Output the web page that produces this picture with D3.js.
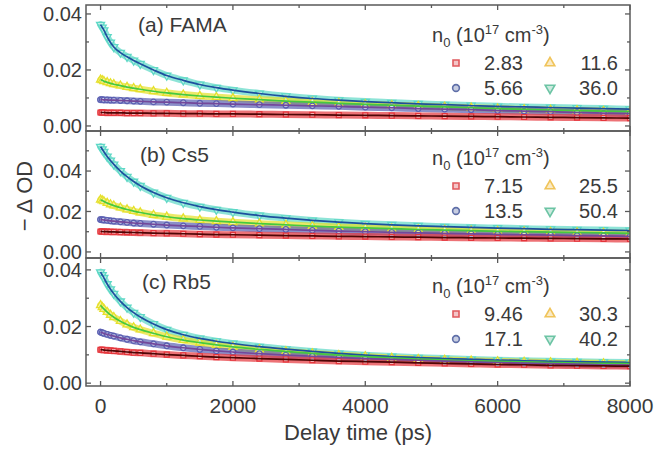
<!DOCTYPE html>
<html>
<head>
<meta charset="utf-8">
<script src="https://cdn.jsdelivr.net/npm/d3@7"></script>
<style>
  body { margin: 0; background: #fff; }
  text { font-family: "Liberation Sans", Arial, sans-serif; fill: #3a3a3a; }
</style>
</head>
<body>
<svg id="chart" width="655" height="450"></svg>
<script>
// Pump-probe delay times (ps)
const delayTimes = [0, 25, 50, 100, 150, 200, 300, 400, 500, 600, 800, 1000, 1250, 1500, 1750, 2000,
  2400, 2800, 3200, 3600, 4000, 4400, 4800, 5200, 5600, 6000, 6400, 6800, 7200, 7600, 8000];

const panelLabels = ["(a) FAMA", "(b) Cs5", "(c) Rb5"];

// Initial carrier densities n0 (10^17 cm^-3), lowest to highest, per film
const famaDensities = ["2.83", "5.66", "11.6", "36.0"];
const cs5Densities  = ["7.15", "13.5", "25.5", "50.4"];
const rb5Densities  = ["9.46", "17.1", "30.3", "40.2"];

// -ΔOD transients, FAMA
const famaN1 = [0.0048, 0.0048, 0.0048, 0.0047, 0.0047, 0.0047, 0.0047, 0.0046, 0.0046, 0.0046, 0.0045, 0.0045, 0.0044, 0.0044, 0.0043, 0.0043,
  0.0042, 0.0041, 0.0040, 0.0039, 0.0038, 0.0037, 0.0036, 0.0035, 0.0034, 0.0033, 0.0032, 0.0031, 0.0030, 0.0029, 0.0028];
const famaN2 = [0.0094, 0.0094, 0.0093, 0.0093, 0.0092, 0.0092, 0.0091, 0.0090, 0.0089, 0.0088, 0.0086, 0.0085, 0.0083, 0.0081, 0.0080, 0.0078,
  0.0076, 0.0074, 0.0072, 0.0070, 0.0067, 0.0065, 0.0062, 0.0060, 0.0058, 0.0055, 0.0053, 0.0051, 0.0048, 0.0046, 0.0044];
const famaN3 = [0.0165, 0.0163, 0.0160, 0.0156, 0.0152, 0.0149, 0.0144, 0.0139, 0.0135, 0.0131, 0.0124, 0.0118, 0.0112, 0.0107, 0.0103, 0.0099,
  0.0094, 0.0089, 0.0085, 0.0081, 0.0077, 0.0074, 0.0071, 0.0068, 0.0065, 0.0062, 0.0059, 0.0057, 0.0055, 0.0053, 0.0051];
const famaN4 = [0.0362, 0.0352, 0.0342, 0.0318, 0.0298, 0.0282, 0.0262, 0.0247, 0.0234, 0.0222, 0.0200, 0.0180, 0.0163, 0.0148, 0.0137, 0.0128,
  0.0116, 0.0106, 0.0098, 0.0092, 0.0087, 0.0083, 0.0079, 0.0076, 0.0073, 0.0070, 0.0068, 0.0066, 0.0064, 0.0062, 0.0060];

// -ΔOD transients, Cs5
const cs5N1 = [0.0101, 0.0101, 0.0100, 0.0100, 0.0099, 0.0099, 0.0098, 0.0097, 0.0096, 0.0095, 0.0093, 0.0092, 0.0090, 0.0088, 0.0086, 0.0085,
  0.0083, 0.0081, 0.0079, 0.0077, 0.0076, 0.0074, 0.0073, 0.0071, 0.0070, 0.0069, 0.0068, 0.0067, 0.0066, 0.0065, 0.0064];
const cs5N2 = [0.0160, 0.0159, 0.0158, 0.0156, 0.0154, 0.0152, 0.0149, 0.0146, 0.0143, 0.0141, 0.0137, 0.0133, 0.0129, 0.0126, 0.0122, 0.0119,
  0.0115, 0.0111, 0.0107, 0.0103, 0.0100, 0.0097, 0.0094, 0.0092, 0.0089, 0.0087, 0.0085, 0.0083, 0.0081, 0.0079, 0.0077];
const cs5N3 = [0.0258, 0.0254, 0.0250, 0.0242, 0.0235, 0.0229, 0.0219, 0.0210, 0.0202, 0.0195, 0.0183, 0.0174, 0.0165, 0.0158, 0.0152, 0.0147,
  0.0140, 0.0134, 0.0128, 0.0123, 0.0119, 0.0115, 0.0111, 0.0108, 0.0105, 0.0102, 0.0100, 0.0098, 0.0096, 0.0094, 0.0092];
const cs5N4 = [0.0520, 0.0508, 0.0495, 0.0472, 0.0452, 0.0433, 0.0400, 0.0372, 0.0348, 0.0327, 0.0294, 0.0268, 0.0243, 0.0224, 0.0209, 0.0197,
  0.0180, 0.0167, 0.0156, 0.0147, 0.0140, 0.0134, 0.0129, 0.0125, 0.0121, 0.0118, 0.0115, 0.0112, 0.0110, 0.0108, 0.0106];

// -ΔOD transients, Rb5
const rb5N1 = [0.0118, 0.0118, 0.0117, 0.0116, 0.0115, 0.0114, 0.0112, 0.0110, 0.0108, 0.0107, 0.0104, 0.0101, 0.0098, 0.0095, 0.0092, 0.0090,
  0.0087, 0.0084, 0.0081, 0.0078, 0.0076, 0.0074, 0.0072, 0.0070, 0.0068, 0.0066, 0.0065, 0.0063, 0.0062, 0.0061, 0.0060];
const rb5N2 = [0.0180, 0.0178, 0.0176, 0.0172, 0.0169, 0.0166, 0.0160, 0.0155, 0.0150, 0.0146, 0.0139, 0.0132, 0.0125, 0.0119, 0.0114, 0.0110,
  0.0104, 0.0099, 0.0095, 0.0091, 0.0087, 0.0084, 0.0081, 0.0078, 0.0075, 0.0073, 0.0071, 0.0069, 0.0067, 0.0065, 0.0064];
const rb5N3 = [0.0275, 0.0268, 0.0262, 0.0251, 0.0241, 0.0233, 0.0219, 0.0207, 0.0197, 0.0189, 0.0176, 0.0164, 0.0152, 0.0143, 0.0135, 0.0128,
  0.0119, 0.0112, 0.0105, 0.0099, 0.0094, 0.0089, 0.0085, 0.0082, 0.0079, 0.0077, 0.0075, 0.0073, 0.0071, 0.0070, 0.0069];
const rb5N4 = [0.0392, 0.0382, 0.0372, 0.0350, 0.0332, 0.0316, 0.0289, 0.0267, 0.0249, 0.0234, 0.0209, 0.0189, 0.0171, 0.0158, 0.0148, 0.0140,
  0.0129, 0.0120, 0.0112, 0.0105, 0.0099, 0.0094, 0.0090, 0.0087, 0.0084, 0.0081, 0.0079, 0.0077, 0.0076, 0.0074, 0.0073];

const xMajorTicks = [0, 2000, 4000, 6000, 8000];
const xMinorTicks = [1000, 3000, 5000, 7000];
const yMajorTicks = [0, 0.02, 0.04];
const yTickLabels = ["0.00", "0.02", "0.04"];

// ---- layout ----
const svg = d3.select("#chart");
const plotLeft = 86, plotRight = 630;

const panels = [
  { label: panelLabels[0], dens: famaDensities, series: [famaN1, famaN2, famaN3, famaN4],
    top: 5, bottom: 131, yDomain: [-0.0018, 0.0432], minor: [0.01, 0.03], legendY: 35, labelY: 32 },
  { label: panelLabels[1], dens: cs5Densities, series: [cs5N1, cs5N2, cs5N3, cs5N4],
    top: 131, bottom: 258, yDomain: [-0.003, 0.0598], minor: [0.01, 0.03, 0.05], legendY: 158, labelY: 162 },
  { label: panelLabels[2], dens: rb5Densities, series: [rb5N1, rb5N2, rb5N3, rb5N4],
    top: 258, bottom: 386, yDomain: [-0.001, 0.0442], minor: [0.01, 0.03], legendY: 286, labelY: 289 }
];

// marker shape, marker colour and fitted-curve colour for each density (low -> high)
const styles = [
  { shape: d3.symbolSquare,   size: 24, rot: 0,   mark: "#e5363c", fit: "#4e0505", legend: "#e05a5e" },
  { shape: d3.symbolCircle,   size: 24, rot: 0,   mark: "#5a5fb2", fit: "#73489a", legend: "#5f6fa8" },
  { shape: d3.symbolTriangle, size: 28, rot: 0,   mark: "#e6e02a", fit: "#45c93f", legend: "#f0c45a" },
  { shape: d3.symbolTriangle, size: 28, rot: 180, mark: "#5ed8c6", fit: "#1d4f9e", legend: "#6cc4a4" }
];

const x = d3.scaleLinear().domain([-220, 8000]).range([plotLeft, plotRight]);

svg.append("defs").selectAll("clipPath").data(panels).join("clipPath")
  .attr("id", (d, i) => "clip" + i)
  .append("rect")
  .attr("x", plotLeft).attr("y", d => d.top)
  .attr("width", plotRight - plotLeft).attr("height", d => d.bottom - d.top);

const drawOrder = [3, 2, 1, 0];

panels.forEach((p, pi) => {
  const y = d3.scaleLinear().domain(p.yDomain).range([p.bottom, p.top]);
  const g = svg.append("g");
  const data = g.append("g").attr("clip-path", `url(#clip${pi})`);

  const line = d3.line().x((v, i) => x(delayTimes[i])).y(v => y(v)).curve(d3.curveMonotoneX);

  // broad band of overlapping data points
  drawOrder.forEach(si => {
    const st = styles[si];
    data.append("path").datum(p.series[si])
      .attr("d", line)
      .attr("fill", "none")
      .attr("stroke", st.mark)
      .attr("stroke-width", 7)
      .attr("stroke-linecap", "round")
      .attr("opacity", 0.7);
  });
  drawOrder.forEach(si => {
    const st = styles[si];
    const sym = d3.symbol().type(st.shape).size(st.size);
    data.append("g").selectAll("path").data(p.series[si]).join("path")
      .attr("transform", (v, i) => `translate(${x(delayTimes[i])},${y(v)}) rotate(${st.rot})`)
      .attr("d", sym)
      .attr("fill", "#fff")
      .attr("fill-opacity", 0.45)
      .attr("stroke", st.mark)
      .attr("stroke-width", 1.3);
  });
  // fitted curves
  drawOrder.forEach(si => {
    const st = styles[si];
    data.append("path").datum(p.series[si])
      .attr("d", line)
      .attr("fill", "none")
      .attr("stroke", st.fit)
      .attr("stroke-width", 1.7);
  });

  // frame
  g.append("rect")
    .attr("x", plotLeft).attr("y", p.top)
    .attr("width", plotRight - plotLeft).attr("height", p.bottom - p.top)
    .attr("fill", "none").attr("stroke", "#5a5a5a").attr("stroke-width", 1.5);

  const tickCol = "#5a5a5a";
  // x ticks (inward, bottom and top)
  const xt = xMajorTicks.map(t => ({ t, len: 5 })).concat(xMinorTicks.map(t => ({ t, len: 3 })));
  g.append("g").selectAll("line").data(xt).join("line")
    .attr("x1", d => x(d.t)).attr("x2", d => x(d.t))
    .attr("y1", p.bottom).attr("y2", d => p.bottom - d.len)
    .attr("stroke", tickCol).attr("stroke-width", 1.3);
  g.append("g").selectAll("line").data(xt).join("line")
    .attr("x1", d => x(d.t)).attr("x2", d => x(d.t))
    .attr("y1", p.top).attr("y2", d => p.top + d.len)
    .attr("stroke", tickCol).attr("stroke-width", 1.3);

  // y ticks (inward, left and right)
  const yt = yMajorTicks.map(v => ({ v, len: 5 })).concat(p.minor.map(v => ({ v, len: 3 })));
  g.append("g").selectAll("line").data(yt).join("line")
    .attr("x1", plotLeft).attr("x2", d => plotLeft + d.len)
    .attr("y1", d => y(d.v)).attr("y2", d => y(d.v))
    .attr("stroke", tickCol).attr("stroke-width", 1.3);
  g.append("g").selectAll("line").data(yt).join("line")
    .attr("x1", plotRight).attr("x2", d => plotRight - d.len)
    .attr("y1", d => y(d.v)).attr("y2", d => y(d.v))
    .attr("stroke", tickCol).attr("stroke-width", 1.3);

  // y tick labels
  g.append("g").selectAll("text").data(yMajorTicks).join("text")
    .attr("x", plotLeft - 4).attr("y", d => y(d))
    .attr("dy", "0.36em")
    .attr("text-anchor", "end")
    .style("font-size", "20px")
    .text((d, i) => yTickLabels[i]);

  // panel label
  g.append("text")
    .attr("x", 138 + pi * 2).attr("y", p.labelY)
    .style("font-size", "21px")
    .text(p.label);

  // legend
  const title = g.append("text").attr("x", 432).attr("y", p.legendY + 7).style("font-size", "20px");
  title.append("tspan").text("n");
  title.append("tspan").attr("dy", 5).style("font-size", "13px").text("0");
  title.append("tspan").attr("dy", -5).text(" (10");
  title.append("tspan").attr("dy", -8).style("font-size", "13px").text("17");
  title.append("tspan").attr("dy", 8).text(" cm");
  title.append("tspan").attr("dy", -8).style("font-size", "13px").text("-3");
  title.append("tspan").attr("dy", 8).text(")");

  const legendItems = [
    { si: 0, col: 0, row: 0 }, { si: 2, col: 1, row: 0 },
    { si: 1, col: 0, row: 1 }, { si: 3, col: 1, row: 1 }
  ];
  const colMarkX = [456, 550], colTextX = [523, 618];
  legendItems.forEach(it => {
    const st = styles[it.si];
    const cy = p.legendY + 28 + it.row * 25;
    g.append("path")
      .attr("transform", `translate(${colMarkX[it.col]},${cy}) rotate(${st.rot})`)
      .attr("d", d3.symbol().type(st.shape).size(st.size + 12)())
      .attr("fill", st.legend).attr("fill-opacity", 0.35)
      .attr("stroke", st.legend).attr("stroke-width", 1.6);
    g.append("text")
      .attr("x", colTextX[it.col]).attr("y", cy).attr("dy", "0.36em")
      .attr("text-anchor", "end")
      .style("font-size", "20px")
      .text(p.dens[it.si]);
  });
});

// x tick labels on the bottom panel
const lastPanel = panels[panels.length - 1];
svg.append("g").selectAll("text").data(xMajorTicks).join("text")
  .attr("x", d => x(d)).attr("y", lastPanel.bottom + 27)
  .attr("text-anchor", "middle")
  .style("font-size", "21px")
  .text(d => d);

// axis titles
svg.append("text")
  .attr("x", (plotLeft + plotRight) / 2).attr("y", 440)
  .attr("text-anchor", "middle")
  .style("font-size", "22px")
  .text("Delay time (ps)");

svg.append("text")
  .attr("transform", "translate(32,196) rotate(-90)")
  .attr("text-anchor", "middle")
  .style("font-size", "22px")
  .text("− Δ OD");
</script>
</body>
</html>
